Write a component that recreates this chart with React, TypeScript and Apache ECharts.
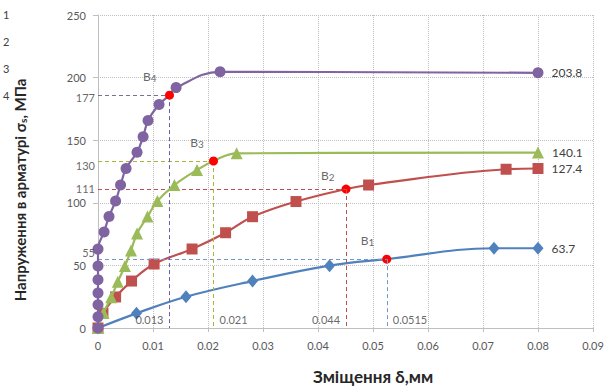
import React, { useEffect, useRef } from "react";
import * as echarts from "echarts";

// ---- data ----
const b1X = [0, 0.007, 0.016, 0.0281, 0.0421, 0.0525, 0.072, 0.08];
const b1Y = [0, 11.7, 25, 37.5, 49.8, 55, 63.7, 63.7];
const b1Key = 5;

const b2X = [0, 0.0009, 0.0032, 0.0061, 0.0102, 0.0171, 0.0232, 0.0281, 0.036, 0.0451, 0.0492, 0.0742, 0.08];
const b2Y = [0, 11.7, 24.8, 37.5, 51.1, 63.1, 76.1, 88.9, 101, 111, 114.2, 126.8, 127.4];
const b2Key = 9;

const b3X = [0, 0.001, 0.0024, 0.0036, 0.0049, 0.006, 0.0071, 0.009, 0.0108, 0.0139, 0.018, 0.021, 0.0252, 0.08];
const b3Y = [0, 12, 24.5, 37, 49.5, 62, 75.5, 89, 101.4, 114.2, 126.2, 133.4, 139.5, 140.1];
const b3Key = 11;

const b4X = [0, 0, 0, 0, 0, 0, 0, 0.0011, 0.002, 0.0032, 0.0041, 0.0051, 0.0071, 0.0082, 0.0091, 0.0111, 0.013, 0.0142, 0.0222, 0.08];
const b4Y = [0, 9, 18.5, 28, 38.5, 49.5, 63, 76.7, 89, 101.4, 114.2, 127.4, 140.3, 152.8, 165.7, 178.5, 186, 192, 204.6, 203.8];
const b4Key = 16;

// annotation texts
const noteTexts = ["177", "130", "111", "55", "0.013", "0.021", "0.044", "0.0515"];
const noteX = [0, 0, 0, 0, 0.013, 0.021, 0.0451, 0.0525];
const noteY = [184.5, 129.6, 111.8, 60.7, 6.4, 6.4, 6.4, 6.4];
const notePos = ["left", "left", "left", "left", "left", "right", "left", "right"];

const beamNums = ["1", "2", "3", "4"];
const beamLabelX = [0.049, 0.0418, 0.018, 0.0094];
const beamLabelY = [69.5, 122.2, 147.8, 200.6];

const xTicks = { min: 0, max: 0.09, step: 0.01 };
const yTicks = { min: 0, max: 250, step: 50 };

const FONT = "Lato, 'Open Sans', sans-serif";

function makeSeries(
  name: string,
  xs: number[],
  ys: number[],
  key: number,
  color: string,
  symbol: string,
  size: any,
  hColor: string,
  vColor: string,
  z: number
) {
  const data = xs.map((x, i) => {
    const item: any = { value: [x, ys[i]] };
    if (i === key) {
      item.symbol = "circle";
      item.symbolSize = 9;
      item.itemStyle = { color: "#FF0000", borderWidth: 0 };
    }
    if (i === xs.length - 1) {
      item.label = {
        show: true,
        position: "right",
        distance: 8,
        color: "#404040",
        fontSize: 12,
        fontFamily: FONT,
        formatter: (p: any) => p.value[1].toFixed(1),
      };
    }
    return item;
  });
  const kx = xs[key];
  const ky = ys[key];
  return {
    name,
    type: "line",
    smooth: 0.4,
    z,
    data,
    symbol,
    symbolSize: size,
    showAllSymbol: true,
    lineStyle: { color, width: 2.2 },
    itemStyle: { color, borderWidth: 0 },
    markLine: {
      silent: true,
      symbol: ["none", "none"],
      label: { show: false },
      data: [
        [
          { coord: [0, ky], lineStyle: { color: hColor, type: [4, 3], width: 1 } },
          { coord: [kx, ky] },
        ],
        [
          { coord: [kx, ky], lineStyle: { color: vColor, type: [4, 3], width: 1 } },
          { coord: [kx, 0] },
        ],
      ],
    },
  };
}

export default function App() {
  const ref = useRef<HTMLDivElement>(null);
  useEffect(() => {
    document.body.style.margin = "0";
    const chart = echarts.init(ref.current!, undefined, { renderer: "svg" });

    const notes = noteTexts.map((t, i) => ({
      value: [noteX[i], noteY[i]],
      label: {
        show: true,
        position: notePos[i],
        distance: i < 4 ? 3 : 6,
        formatter: t,
        color: "#404040",
        fontSize: 11,
        fontFamily: FONT,
      },
    }));
    const beams = beamNums.map((n, i) => ({
      value: [beamLabelX[i], beamLabelY[i]],
      label: {
        show: true,
        position: "inside",
        formatter: "{b|B}{s|" + n + "}",
        rich: {
          b: { fontSize: 12, color: "#404040", fontFamily: FONT },
          s: { fontSize: 10, color: "#404040", fontFamily: FONT, padding: [3, 0, 0, 0] },
        },
      },
    }));

    const option: any = {
      animation: false,
      grid: { left: 98, right: 16, top: 15, bottom: 60 },
      xAxis: {
        type: "value",
        min: xTicks.min,
        max: xTicks.max,
        interval: xTicks.step,
        axisLine: { show: true, lineStyle: { color: "#BFBFBF", width: 1 } },
        axisTick: { show: true, length: 4, lineStyle: { color: "#BFBFBF" } },
        splitLine: { show: true, lineStyle: { type: "dotted", color: "#BFBFBF" } },
        axisLabel: {
          color: "#595959",
          fontSize: 11,
          fontFamily: FONT,
          margin: 12,
          formatter: (v: number) => String(+v.toFixed(2)),
        },
      },
      yAxis: {
        type: "value",
        min: yTicks.min,
        max: yTicks.max,
        interval: yTicks.step,
        axisLine: { show: true, lineStyle: { color: "#BFBFBF", width: 1 } },
        axisTick: { show: true, length: 5, lineStyle: { color: "#BFBFBF" } },
        splitLine: { show: true, lineStyle: { type: "dotted", color: "#BFBFBF" } },
        axisLabel: { color: "#595959", fontSize: 11, fontFamily: FONT, margin: 12 },
      },
      series: [
        makeSeries("B1", b1X, b1Y, b1Key, "#4F81BD", "diamond", [11, 13], "#6f97cc", "#6f97cc", 3),
        makeSeries("B2", b2X, b2Y, b2Key, "#C0504D", "rect", 11, "#c0504d", "#c0504d", 4),
        makeSeries("B3", b3X, b3Y, b3Key, "#9BBB59", "triangle", 12, "#a9b43c", "#a9b43c", 5),
        makeSeries("B4", b4X, b4Y, b4Key, "#8064A2", "circle", 11, "#7a7090", "#6a5ca8", 6),
        {
          type: "scatter",
          symbolSize: 0,
          silent: true,
          z: 10,
          data: [...notes, ...beams],
        },
      ],
      graphic: [
        ...["1", "2", "3", "4"].map((t, i) => ({
          type: "text",
          left: 3,
          top: 9 + i * 27,
          style: { text: t, fill: "#404040", font: "11px " + FONT },
        })),
        {
          type: "text",
          x: 20,
          y: 190,
          rotation: Math.PI / 2,
          style: {
            text: "{a|Напруження в арматурі σ}{s|s}{a|, МПа}",
            align: "center",
            verticalAlign: "middle",
            rich: {
              a: { fontSize: 15, fontWeight: "bold", fill: "#262626", fontFamily: FONT },
              s: { fontSize: 10, fontWeight: "bold", fill: "#262626", fontFamily: FONT, padding: [6, 0, 0, 0] },
            },
          },
        },
        {
          type: "text",
          x: 373,
          y: 376,
          style: {
            text: "Зміщення δ,мм",
            align: "center",
            verticalAlign: "middle",
            fill: "#262626",
            font: "bold 17px " + FONT,
          },
        },
      ],
    };
    chart.setOption(option);
    return () => chart.dispose();
  }, []);
  return <div ref={ref} style={{ width: 609, height: 388 }} />;
}
